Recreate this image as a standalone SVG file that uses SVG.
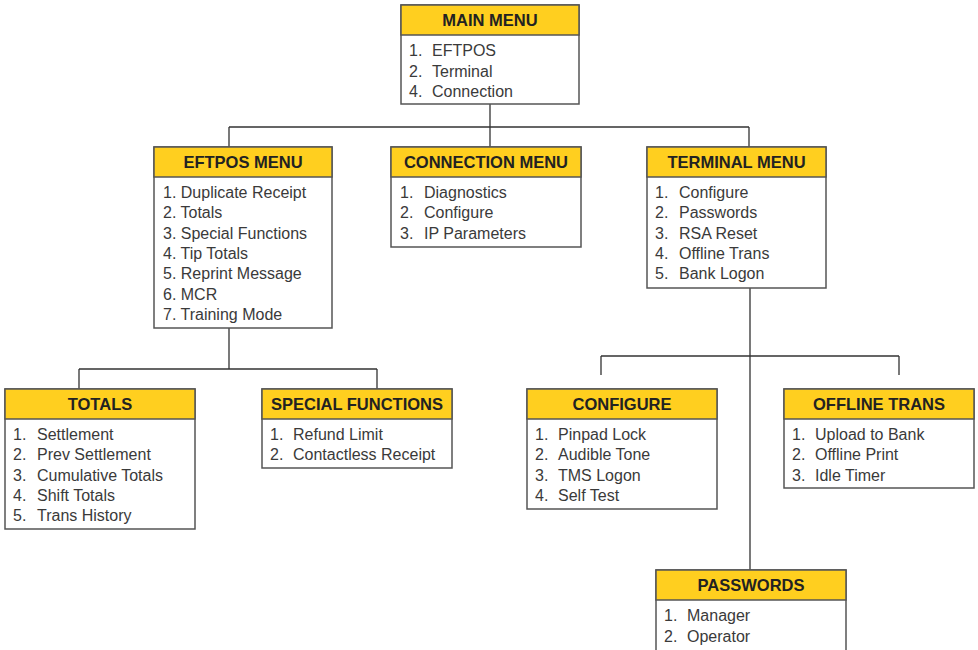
<svg xmlns="http://www.w3.org/2000/svg" width="978" height="650" viewBox="0 0 978 650">
<style>
.box{fill:#fff;stroke:#555;stroke-width:1.5}
.hd{fill:#FFCF1F;stroke:#555;stroke-width:1.5}
.ht{font-family:"Liberation Sans",Arial,sans-serif;font-weight:bold;font-size:16.5px;fill:#222;text-anchor:middle}
.it{font-family:"Liberation Sans",Arial,sans-serif;font-size:16px;fill:#3a3a3a}
.cn{fill:none;stroke:#333;stroke-width:1.3}
</style>
<rect width="978" height="650" fill="#fff"/>
<g id="connectors" class="cn">
<path d="M490 104V127M229 127H749M229 127V147M490 127V147M749 127V147"/>
<path d="M229 328V369M79 369H377M79 369V389M377 369V389"/>
<path d="M750 288V570M601 356H899M601 356V375M899 356V375"/>
</g>
<g id="main-menu">
<rect class="box" x="401" y="5" width="178" height="99"/>
<rect class="hd" x="401" y="5" width="178" height="30"/>
<text class="ht" x="490" y="26">MAIN MENU</text>
<text class="it" x="409" y="56">1.</text><text class="it" x="432" y="56">EFTPOS</text>
<text class="it" x="409" y="77">2.</text><text class="it" x="432" y="77">Terminal</text>
<text class="it" x="409" y="97">4.</text><text class="it" x="432" y="97">Connection</text>
</g>
<g id="eftpos-menu">
<rect class="box" x="154" y="147" width="178" height="181"/>
<rect class="hd" x="154" y="147" width="178" height="30"/>
<text class="ht" x="243" y="168">EFTPOS MENU</text>
<text class="it" x="163" y="198">1. Duplicate Receipt</text>
<text class="it" x="163" y="218">2. Totals</text>
<text class="it" x="163" y="239">3. Special Functions</text>
<text class="it" x="163" y="259">4. Tip Totals</text>
<text class="it" x="163" y="279">5. Reprint Message</text>
<text class="it" x="163" y="300">6. MCR</text>
<text class="it" x="163" y="320">7. Training Mode</text>
</g>
<g id="connection-menu">
<rect class="box" x="391" y="147" width="190" height="100"/>
<rect class="hd" x="391" y="147" width="190" height="30"/>
<text class="ht" x="486" y="168">CONNECTION MENU</text>
<text class="it" x="400" y="198">1.</text><text class="it" x="424" y="198">Diagnostics</text>
<text class="it" x="400" y="218">2.</text><text class="it" x="424" y="218">Configure</text>
<text class="it" x="400" y="239">3.</text><text class="it" x="424" y="239">IP Parameters</text>
</g>
<g id="terminal-menu">
<rect class="box" x="647" y="147" width="179" height="141"/>
<rect class="hd" x="647" y="147" width="179" height="30"/>
<text class="ht" x="736.5" y="168">TERMINAL MENU</text>
<text class="it" x="655" y="198">1.</text><text class="it" x="679" y="198">Configure</text>
<text class="it" x="655" y="218">2.</text><text class="it" x="679" y="218">Passwords</text>
<text class="it" x="655" y="239">3.</text><text class="it" x="679" y="239">RSA Reset</text>
<text class="it" x="655" y="259">4.</text><text class="it" x="679" y="259">Offline Trans</text>
<text class="it" x="655" y="279">5.</text><text class="it" x="679" y="279">Bank Logon</text>
</g>
<g id="totals">
<rect class="box" x="5" y="389" width="190" height="140"/>
<rect class="hd" x="5" y="389" width="190" height="30"/>
<text class="ht" x="100" y="410">TOTALS</text>
<text class="it" x="13" y="440">1.</text><text class="it" x="37" y="440">Settlement</text>
<text class="it" x="13" y="460">2.</text><text class="it" x="37" y="460">Prev Settlement</text>
<text class="it" x="13" y="481">3.</text><text class="it" x="37" y="481">Cumulative Totals</text>
<text class="it" x="13" y="501">4.</text><text class="it" x="37" y="501">Shift Totals</text>
<text class="it" x="13" y="521">5.</text><text class="it" x="37" y="521">Trans History</text>
</g>
<g id="special-functions">
<rect class="box" x="262" y="389" width="190" height="79"/>
<rect class="hd" x="262" y="389" width="190" height="30"/>
<text class="ht" x="357" y="410">SPECIAL FUNCTIONS</text>
<text class="it" x="270" y="440">1.</text><text class="it" x="293" y="440">Refund Limit</text>
<text class="it" x="270" y="460">2.</text><text class="it" x="293" y="460">Contactless Receipt</text>
</g>
<g id="configure">
<rect class="box" x="527" y="389" width="190" height="120"/>
<rect class="hd" x="527" y="389" width="190" height="30"/>
<text class="ht" x="622" y="410">CONFIGURE</text>
<text class="it" x="535" y="440">1.</text><text class="it" x="558" y="440">Pinpad Lock</text>
<text class="it" x="535" y="460">2.</text><text class="it" x="558" y="460">Audible Tone</text>
<text class="it" x="535" y="481">3.</text><text class="it" x="558" y="481">TMS Logon</text>
<text class="it" x="535" y="501">4.</text><text class="it" x="558" y="501">Self Test</text>
</g>
<g id="offline-trans">
<rect class="box" x="784" y="389" width="190" height="99"/>
<rect class="hd" x="784" y="389" width="190" height="30"/>
<text class="ht" x="879" y="410">OFFLINE TRANS</text>
<text class="it" x="792" y="440">1.</text><text class="it" x="815" y="440">Upload to Bank</text>
<text class="it" x="792" y="460">2.</text><text class="it" x="815" y="460">Offline Print</text>
<text class="it" x="792" y="481">3.</text><text class="it" x="815" y="481">Idle Timer</text>
</g>
<g id="passwords">
<rect class="box" x="656" y="570" width="190" height="100"/>
<rect class="hd" x="656" y="570" width="190" height="30"/>
<text class="ht" x="751" y="591">PASSWORDS</text>
<text class="it" x="664" y="621">1.</text><text class="it" x="687" y="621">Manager</text>
<text class="it" x="664" y="642">2.</text><text class="it" x="687" y="642">Operator</text>
</g>
</svg>
